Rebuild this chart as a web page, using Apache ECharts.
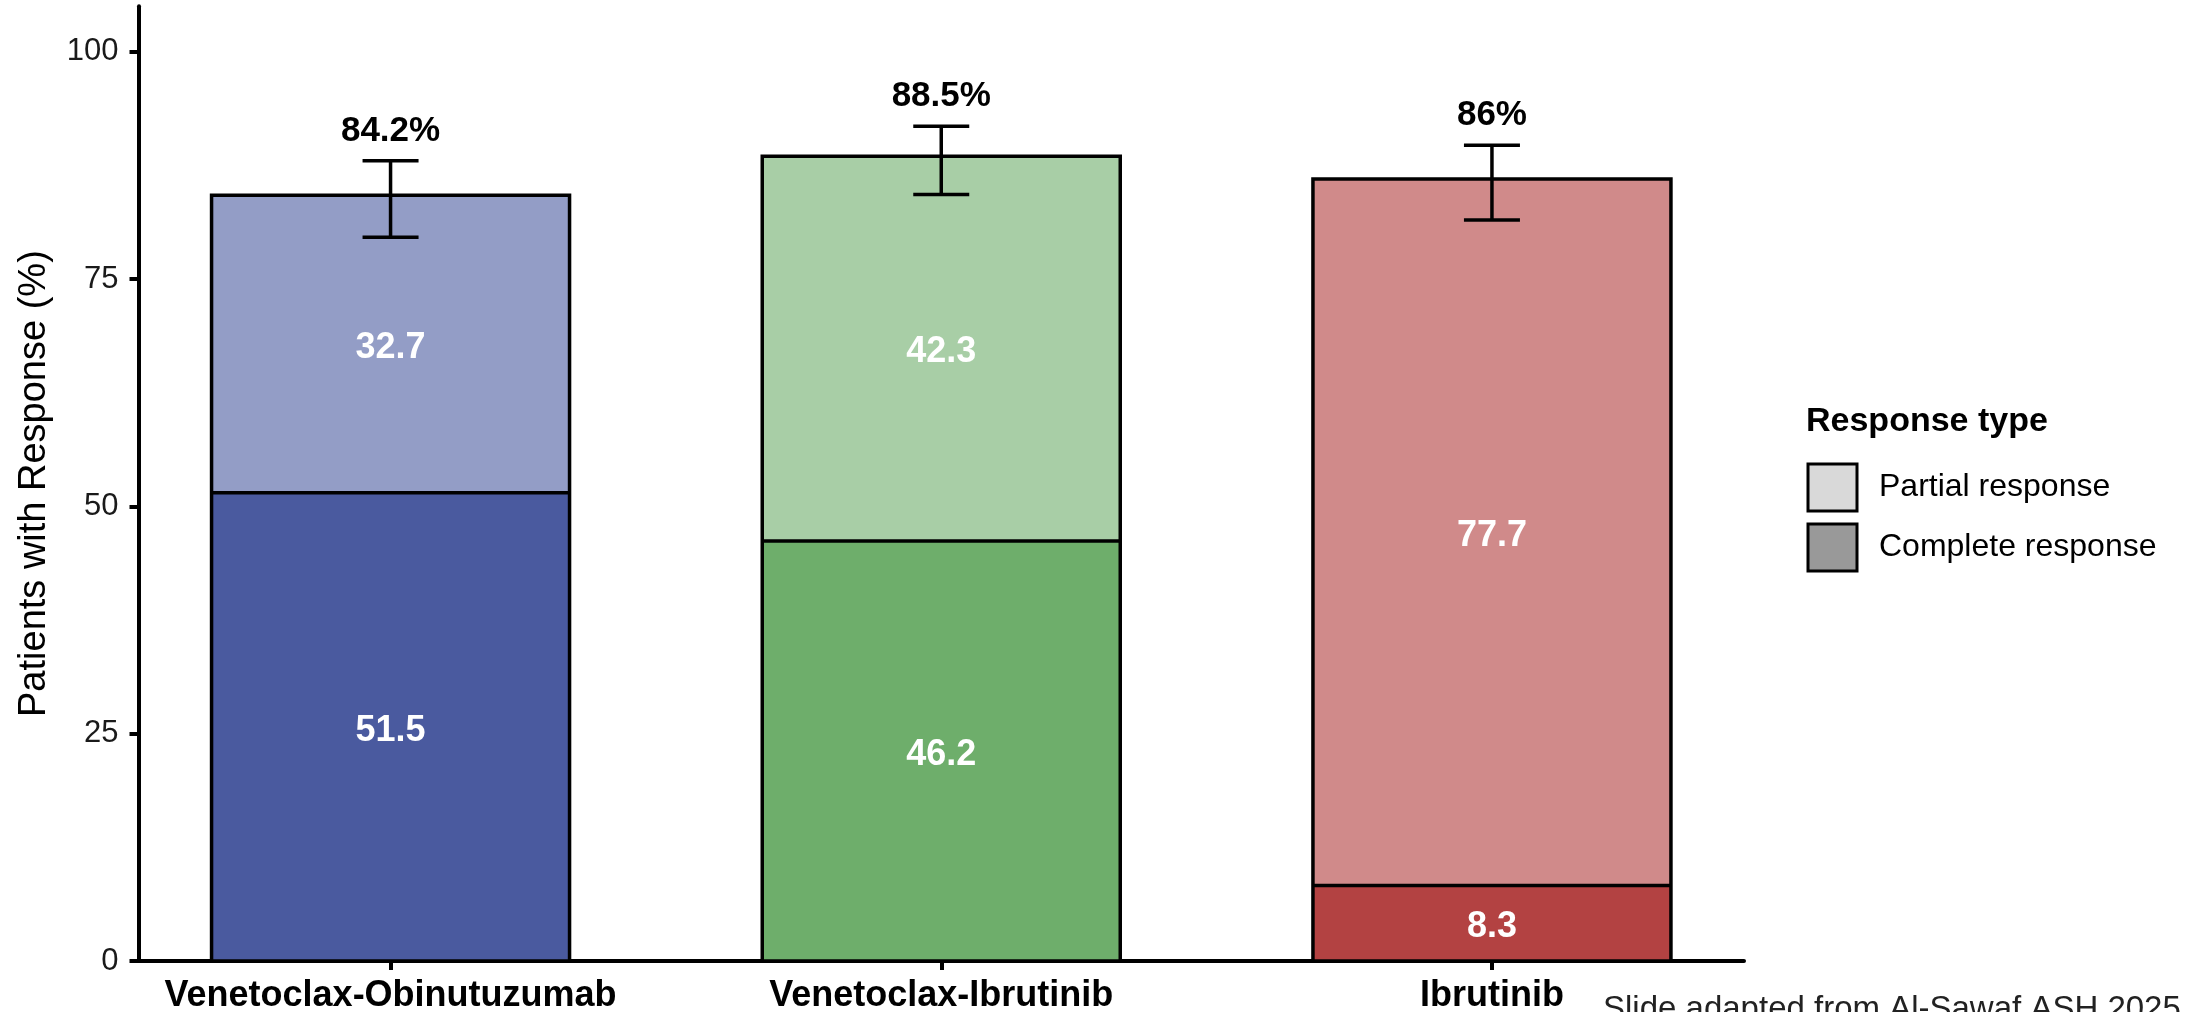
<!DOCTYPE html>
<html>
<head>
<meta charset="utf-8">
<title>Response by treatment arm</title>
<script src="https://cdn.jsdelivr.net/npm/echarts@6/dist/echarts.min.js"></script>
<style>
  html, body { margin: 0; padding: 0; background: #ffffff; }
  #chart { width: 2187px; height: 1012px; }
</style>
</head>
<body>
<div id="chart"></div>
<script>
// Treatment arms (x positions 1..3 on the value axis)
const categories = ['Venetoclax-Obinutuzumab', 'Venetoclax-Ibrutinib', 'Ibrutinib'];
// Response rates (%) per arm
const completeResponse = [51.5, 46.2, 8.3];
const partialResponse = [32.7, 42.3, 77.7];
// 95% CI of the overall response rate
const ciLower = [79.6, 84.3, 81.5];
const ciUpper = [88.0, 91.8, 89.7];
// Y axis tick values
const yTicks = [0, 25, 50, 75, 100];

// Fill colours per arm
const completeColors = ['#4A5A9F', '#6EAE6B', '#B34242'];
const partialColors = ['#939DC6', '#A8CEA6', '#D08A8A'];

const FONT = "'Liberation Sans', Arial, Helvetica, sans-serif";
const BAR_WIDTH = 358;
const positions = categories.map((_, i) => i + 1);

// Rows are [response %, arm position]; the first column is the stacked one.
const completeData = positions.map((x, i) => [completeResponse[i], x]);
const partialData = positions.map((x, i) => [partialResponse[i], x]);
// Rows: [arm position, CI low, CI high, overall response, complete response]
const overallData = positions.map((x, i) => [
  x, ciLower[i], ciUpper[i],
  Number((completeResponse[i] + partialResponse[i]).toFixed(1)),
  completeResponse[i]
]);

const barLabel = {
  show: true,
  position: 'inside',
  offset: [0, 4],
  color: '#ffffff',
  fontFamily: FONT,
  fontWeight: 'bold',
  fontSize: 36,
  formatter: p => String(p.value[0])
};

const chart = echarts.init(document.getElementById('chart'), null, { renderer: 'canvas' });

chart.setOption({
  backgroundColor: '#ffffff',
  animation: false,
  title: [
    {
      text: 'Response type',
      left: 1806, top: 405, padding: 0,
      textStyle: { fontFamily: FONT, fontWeight: 'bold', fontSize: 34, color: '#000000' }
    },
    {
      text: 'Slide adapted from Al-Sawaf ASH 2025',
      left: 1603, top: 993, padding: 0,
      textStyle: { fontFamily: FONT, fontWeight: 'normal', fontSize: 33, color: '#222222' }
    }
  ],
  legend: {
    orient: 'vertical',
    left: 1806.5, top: 462.5, padding: 0,
    itemWidth: 49, itemHeight: 47, itemGap: 10,
    icon: 'rect',
    selectedMode: false,
    textStyle: { fontFamily: FONT, fontSize: 32, color: '#000000', padding: [0, 0, 0, 17] },
    data: [
      { name: 'Partial response', itemStyle: { color: '#D9D9D9', borderColor: '#000000', borderWidth: 3 } },
      { name: 'Complete response', itemStyle: { color: '#999999', borderColor: '#000000', borderWidth: 3 } }
    ]
  },
  grid: {
    left: 138.5, right: 443, top: 6.2, bottom: 51,
    containLabel: false,
    outerBoundsMode: 'none'
  },
  xAxis: {
    type: 'value',
    min: 0.5423, max: 3.4577,
    splitLine: { show: false },
    axisLine: { show: true, onZero: false, lineStyle: { color: '#000000', width: 4 } },
    axisTick: { show: true, length: 9, customValues: positions, lineStyle: { color: '#000000', width: 4 } },
    axisLabel: {
      customValues: positions,
      margin: 17,
      fontFamily: FONT, fontWeight: 'bold', fontSize: 36, color: '#000000',
      formatter: v => categories[Math.round(v) - 1] || ''
    }
  },
  yAxis: {
    type: 'value',
    min: 0, max: 105, interval: 25,
    name: 'Patients with Response (%)',
    nameLocation: 'middle',
    nameGap: 85,
    nameTextStyle: { fontFamily: FONT, fontSize: 38, color: '#000000' },
    splitLine: { show: false },
    axisLine: { show: true, onZero: false, lineStyle: { color: '#000000', width: 4 } },
    axisTick: { show: true, length: 9, customValues: yTicks, lineStyle: { color: '#000000', width: 4 } },
    axisLabel: {
      customValues: yTicks,
      margin: 20,
      fontFamily: FONT, fontSize: 31, color: '#1a1a1a'
    }
  },
  series: [
    {
      name: 'Complete response',
      type: 'bar',
      stack: 'response',
      barWidth: BAR_WIDTH,
      encode: { x: 1, y: 0 },
      data: completeData,
      itemStyle: { color: p => completeColors[p.dataIndex] },
      label: barLabel,
      z: 2
    },
    {
      name: 'Partial response',
      type: 'bar',
      stack: 'response',
      barWidth: BAR_WIDTH,
      encode: { x: 1, y: 0 },
      data: partialData,
      itemStyle: { color: p => partialColors[p.dataIndex] },
      label: barLabel,
      z: 2
    },
    {
      // Segment outlines, CI whiskers and the overall response label
      name: 'Overall response',
      type: 'custom',
      z: 5,
      encode: { x: 0, y: [1, 2] },
      data: overallData,
      renderItem: (params, api) => {
        const x = api.value(0);
        const lo = api.coord([x, api.value(1)]);
        const hi = api.coord([x, api.value(2)]);
        const total = api.value(3);
        const base = api.coord([x, 0]);
        const mid = api.coord([x, api.value(4)]);
        const top = api.coord([x, total]);
        const hw = BAR_WIDTH / 2;
        const half = 28;
        const outline = { fill: null, stroke: '#000000', lineWidth: 3.5 };
        const stroke = { stroke: '#000000', lineWidth: 3.5 };
        return {
          type: 'group',
          children: [
            {
              type: 'rect',
              shape: { x: base[0] - hw, y: top[1], width: BAR_WIDTH, height: base[1] - top[1] },
              style: outline
            },
            { type: 'line', shape: { x1: mid[0] - hw, y1: mid[1], x2: mid[0] + hw, y2: mid[1] }, style: stroke },
            { type: 'line', shape: { x1: lo[0], y1: lo[1], x2: hi[0], y2: hi[1] }, style: stroke },
            { type: 'line', shape: { x1: hi[0] - half, y1: hi[1], x2: hi[0] + half, y2: hi[1] }, style: stroke },
            { type: 'line', shape: { x1: lo[0] - half, y1: lo[1], x2: lo[0] + half, y2: lo[1] }, style: stroke },
            {
              type: 'text',
              style: {
                text: total + '%',
                x: hi[0], y: hi[1] - 12,
                align: 'center', verticalAlign: 'bottom',
                font: 'bold 35px ' + FONT,
                fill: '#000000'
              }
            }
          ]
        };
      }
    }
  ]
});
</script>
</body>
</html>
